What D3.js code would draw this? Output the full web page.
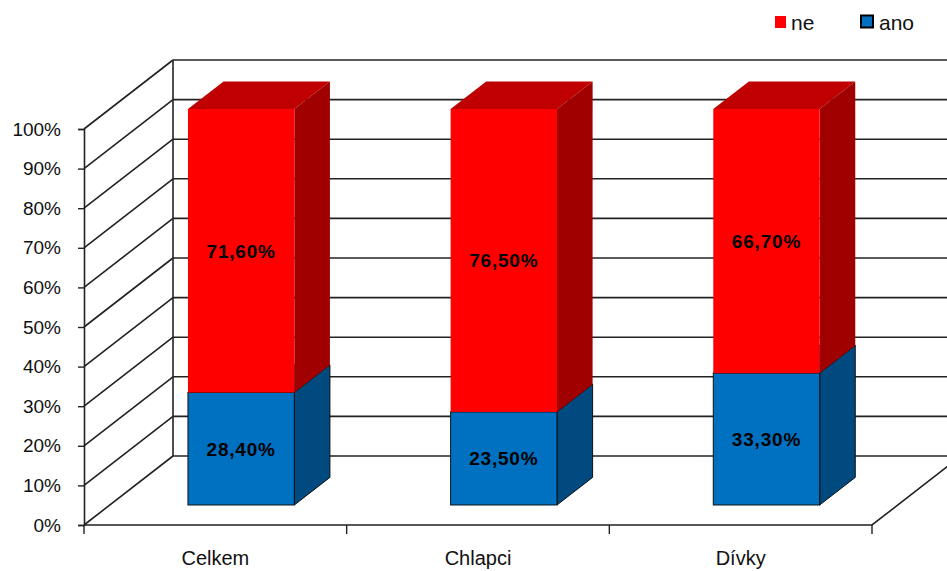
<!DOCTYPE html>
<html>
<head>
<meta charset="utf-8">
<script src="https://cdn.jsdelivr.net/npm/d3@7"></script>
<style>
  body { margin: 0; background: #fff; }
  text { font-family: Arial, "Liberation Sans", sans-serif; }
</style>
</head>
<body>
<div id="chart-area"></div>
<script>
// data
const categories = ["Celkem", "Chlapci", "Dívky"]
const anoValues = [28.4, 23.5, 33.3]
const neValues = [71.6, 76.5, 66.7]
const seriesNames = ["ne", "ano"]
const yTicks = [0, 10, 20, 30, 40, 50, 60, 70, 80, 90, 100]

const WIDTH = 947
const HEIGHT = 571

// front plane of the plot + depth vector of the 3d box
const FRONT = { LEFT: 84, RIGHT: 872, BOTTOM: 525, TOP: 129 }
const DEPTH = { X: 89, Y: -69 }
const BAR_FRONT = 0.29   // depth fraction where the bar front face sits
const BAR_DEPTH = 0.40   // bar thickness as depth fraction

const colors = {
  ano: { front: "#0070c0", side: "#004a80", top: "#005a99", stroke: "#111" },
  ne:  { front: "#ff0000", side: "#a00000", top: "#c00000", stroke: "none" }
}

const svg = d3.select("#chart-area").append("svg")
  .attr("width", WIDTH)
  .attr("height", HEIGHT)

const x = d3.scaleBand()
  .domain(categories)
  .range([FRONT.LEFT, FRONT.RIGHT])
  .paddingInner(0)
  .paddingOuter(0)

const y = d3.scaleLinear()
  .domain([0, 100])
  .range([FRONT.BOTTOM, FRONT.TOP])

const off = f => [DEPTH.X * f, DEPTH.Y * f]

const walls = svg.append("g").attr("class", "walls")
  .attr("stroke", "#222")
  .attr("stroke-width", 1.6)
  .attr("fill", "none")

// back wall gridlines
walls.selectAll(".grid").data(yTicks).enter().append("line")
  .attr("class", "grid")
  .attr("x1", FRONT.LEFT + DEPTH.X)
  .attr("x2", FRONT.RIGHT + DEPTH.X)
  .attr("y1", d => y(d) + DEPTH.Y)
  .attr("y2", d => y(d) + DEPTH.Y)

// side wall diagonals
walls.selectAll(".diag").data(yTicks).enter().append("line")
  .attr("class", "diag")
  .attr("x1", FRONT.LEFT)
  .attr("x2", FRONT.LEFT + DEPTH.X)
  .attr("y1", d => y(d))
  .attr("y2", d => y(d) + DEPTH.Y)

// side wall verticals
walls.append("line")
  .attr("x1", FRONT.LEFT + DEPTH.X).attr("x2", FRONT.LEFT + DEPTH.X)
  .attr("y1", y(0) + DEPTH.Y).attr("y2", y(100) + DEPTH.Y)

// floor
walls.append("polyline")
  .attr("points", [
    [FRONT.LEFT, y(0)],
    [FRONT.RIGHT, y(0)],
    [FRONT.RIGHT + DEPTH.X, y(0) + DEPTH.Y]
  ].join(" "))

// y axis on front left edge
const yAxisCall = d3.axisLeft(y)
  .tickValues(yTicks)
  .tickSize(6)
  .tickPadding(17)
  .tickFormat(d => d + "%")

const yAxis = svg.append("g")
  .attr("class", "y axis")
  .attr("transform", `translate(${FRONT.LEFT}, 0)`)
  .call(yAxisCall)
yAxis.select(".domain").attr("stroke", "#222").attr("stroke-width", 1.6)
yAxis.selectAll(".tick line").attr("stroke", "#222").attr("stroke-width", 1.4)
yAxis.selectAll(".tick text")
  .attr("fill", "#111")
  .style("font-size", "19px")
  .style("font-family", "Arial, 'Liberation Sans', sans-serif")

// x axis: labels at band centres, ticks at band edges
const xAxisCall = d3.axisBottom(x).tickSize(0).tickPadding(26)
const xAxis = svg.append("g")
  .attr("class", "x axis")
  .attr("transform", `translate(0, ${y(0)})`)
  .call(xAxisCall)
xAxis.select(".domain").remove()
xAxis.selectAll(".tick text")
  .attr("fill", "#111")
  .style("font-size", "20px")
  .style("font-family", "Arial, 'Liberation Sans', sans-serif")

const edges = categories.map(c => x(c)).concat([x.range()[1]])
xAxis.selectAll(".edge").data(edges).enter().append("line")
  .attr("class", "edge")
  .attr("x1", d => d).attr("x2", d => d)
  .attr("y1", 0).attr("y2", 9)
  .attr("stroke", "#222")
  .attr("stroke-width", 1.4)

// stacked 3d bars
const stackData = categories.map((c, i) => ({ category: c, ano: anoValues[i], ne: neValues[i] }))
const stack = d3.stack().keys(["ano", "ne"])(stackData)

const barW = x.bandwidth() * 0.405
const [fx, fy] = off(BAR_FRONT)
const [dx, dy] = off(BAR_DEPTH)
const numFmt = d3.formatLocale({ decimal: ",", thousands: " ", grouping: [3], currency: ["", ""] }).format(".2f")

const bars = svg.append("g").attr("class", "bars")

stack.forEach(layer => {
  const key = layer.key
  const col = colors[key]
  const g = bars.append("g").attr("class", "series " + key)

  layer.forEach(d => {
    const x0 = x(d.data.category) + (x.bandwidth() - barW) / 2 + fx
    const x1 = x0 + barW
    const yb = y(d[0]) + fy
    const yt = y(d[1]) + fy

    // top face
    g.append("polygon")
      .attr("points", [[x0, yt], [x1, yt], [x1 + dx, yt + dy], [x0 + dx, yt + dy]].join(" "))
      .attr("fill", col.top)
      .attr("stroke", col.stroke)
      .attr("stroke-width", 1)
    // side face
    g.append("polygon")
      .attr("points", [[x1, yt], [x1 + dx, yt + dy], [x1 + dx, yb + dy], [x1, yb]].join(" "))
      .attr("fill", col.side)
      .attr("stroke", col.stroke)
      .attr("stroke-width", 1)
    // front face
    g.append("rect")
      .attr("x", x0)
      .attr("y", yt)
      .attr("width", barW)
      .attr("height", yb - yt)
      .attr("fill", col.front)
      .attr("stroke", col.stroke)
      .attr("stroke-width", 1)

    g.append("text")
      .attr("x", (x0 + x1) / 2)
      .attr("y", (yt + yb) / 2)
      .attr("dy", "0.36em")
      .attr("text-anchor", "middle")
      .attr("font-weight", "bold")
      .attr("letter-spacing", "0.8px")
      .style("font-size", "19px")
      .attr("fill", "#000")
      .text(numFmt(d.data[key]) + "%")
  })
})

// legend
const legendPos = { ne: [775, 791], ano: [861, 879] }
const legend = svg.append("g").attr("class", "legend")
seriesNames.forEach(name => {
  const [sx, tx] = legendPos[name]
  legend.append("rect")
    .attr("x", sx)
    .attr("y", name === "ne" ? 16 : 15.5)
    .attr("width", name === "ne" ? 11 : 12)
    .attr("height", name === "ne" ? 12 : 12)
    .attr("fill", colors[name].front)
    .attr("stroke", name === "ano" ? "#000" : "none")
    .attr("stroke-width", 2)
  legend.append("text")
    .attr("x", tx)
    .attr("y", 30)
    .style("font-size", "21px")
    .attr("fill", "#111")
    .text(name)
})
</script>
</body>
</html>
